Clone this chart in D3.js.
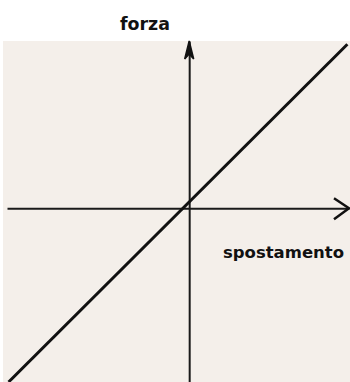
<!DOCTYPE html>
<html>
<head>
<meta charset="utf-8">
<script src="https://cdn.jsdelivr.net/npm/d3@7"></script>
<style>
  body { margin: 0; background: #fff; }
  svg { display: block; }
</style>
</head>
<body>
<div id="chart"></div>
<script>
// assi e retta forza-spostamento
const xDomain = [-1.14, 1.0];
const yDomain = [-1.06, 1.02];
const lineX = [-1.13, 0.99];
const lineY = [-1.06, 1.0];
const xLabel = "spostamento";
const yLabel = "forza";

const W = 350, H = 382;

const svg = d3.select("#chart")
  .append("svg")
    .attr("width", W)
    .attr("height", H);

const x = d3.scaleLinear().domain(xDomain).range([7, 349]);
const y = d3.scaleLinear().domain(yDomain).range([382, 41]);

// foglio scansionato
svg.append("rect")
  .attr("x", 3)
  .attr("y", 41)
  .attr("width", W - 3)
  .attr("height", H - 41)
  .attr("fill", "#f4efea");

// asse orizzontale
svg.append("g")
  .attr("transform", `translate(0,${y(0)})`)
  .call(d3.axisBottom(x).tickValues([]).tickSizeOuter(0))
  .call(g => g.select(".domain").attr("stroke", "#1a1a1a").attr("stroke-width", 2));

// asse verticale
svg.append("g")
  .attr("transform", `translate(${x(0)},0)`)
  .call(d3.axisLeft(y).tickValues([]).tickSizeOuter(0))
  .call(g => g.select(".domain").attr("stroke", "#1a1a1a").attr("stroke-width", 2));

// freccia in alto (piena)
const tx = x(0), ty = y(yDomain[1]);
svg.append("path")
  .attr("d", `M${tx},${ty} L${tx - 4.5},${ty + 18} L${tx},${ty + 13} L${tx + 4.5},${ty + 18} Z`)
  .attr("fill", "#111")
  .attr("stroke", "#111")
  .attr("stroke-width", 1.5);

// freccia a destra (aperta)
const rx = x(xDomain[1]), ry = y(0);
svg.append("path")
  .attr("d", `M${rx - 15},${ry - 10} L${rx},${ry} L${rx - 15},${ry + 11}`)
  .attr("fill", "none")
  .attr("stroke", "#111")
  .attr("stroke-width", 2.5)
  .attr("stroke-linejoin", "round");

// retta
const pts = lineX.map((d, i) => [d, lineY[i]]);
svg.append("path")
  .datum(pts)
  .attr("d", d3.line().x(d => x(d[0])).y(d => y(d[1])))
  .attr("fill", "none")
  .attr("stroke", "#111")
  .attr("stroke-width", 3);

// etichette
svg.append("text")
  .attr("x", 120)
  .attr("y", 30)
  .attr("textLength", 50)
  .attr("lengthAdjust", "spacingAndGlyphs")
  .style("font-family", "'DejaVu Sans', sans-serif")
  .style("font-weight", "bold")
  .style("font-size", "18px")
  .style("fill", "#111")
  .text(yLabel);

svg.append("text")
  .attr("x", 223)
  .attr("y", 258)
  .attr("textLength", 121)
  .attr("lengthAdjust", "spacingAndGlyphs")
  .style("font-family", "'DejaVu Sans', sans-serif")
  .style("font-weight", "bold")
  .style("font-size", "16px")
  .style("fill", "#111")
  .text(xLabel);
</script>
</body>
</html>
